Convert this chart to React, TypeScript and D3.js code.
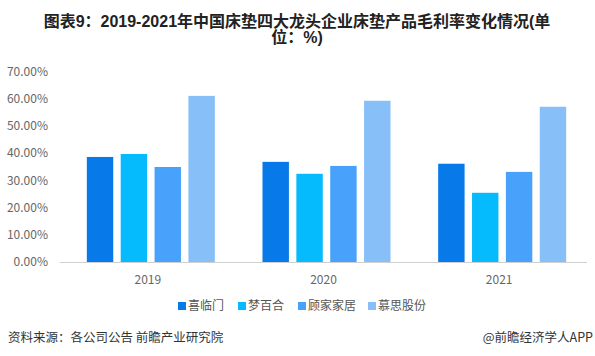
import React from "react";
import * as d3 from "d3";

const years = ["2019", "2020", "2021"];
const seriesNames = ["喜临门", "梦百合", "顾家家居", "慕思股份"];
const seriesColors = ["#0779E8", "#05BAFD", "#48A1FA", "#87BFF9"];
const values = [
  [38.7, 36.9, 36.2],
  [39.8, 32.5, 25.5],
  [35.0, 35.4, 33.2],
  [61.2, 59.4, 57.2],
];
const yTicks = [0, 10, 20, 30, 40, 50, 60, 70];
const titleLines = ["图表9：2019-2021年中国床垫四大龙头企业床垫产品毛利率变化情况(单", "位：%)"];
const sourceText = "资料来源：各公司公告 前瞻产业研究院";
const creditText = "@前瞻经济学人APP";

export default function App() {
  const W = 595, H = 356;
  const left = 60, right = 587, top = 72, bottom = 262;
  const x = d3.scaleBand<string>().domain(years).range([left, right]);
  const y = d3.scaleLinear().domain([0, 70]).range([bottom, top]);
  const sub = d3.scaleBand<string>().domain(seriesNames).range([0, 128]).paddingInner(0.22).paddingOuter(0);
  const font = "'Noto Sans CJK SC', 'Noto Sans', sans-serif";
  const legendX = [178, 238, 298, 368];
  return (
    <svg width={W} height={H} style={{ position: "absolute", left: 0, top: 0, background: "#fff" }} fontFamily={font}>
      <rect width={W} height={H} fill="#fff" />
      {titleLines.map((t, i) => (
        <text key={i} x={297} y={27 + i * 16} textAnchor="middle" fontSize={16} fontWeight="bold" fill="#222"
          fontFamily="'Liberation Sans', 'Noto Sans CJK SC', sans-serif">{t}</text>
      ))}
      {yTicks.map((t) => (
        <text key={t} x={48} y={y(t) + 4} textAnchor="end" fontSize={12} fill="#666">{t.toFixed(2)}%</text>
      ))}
      {seriesNames.map((s, si) =>
        years.map((yr, yi) => {
          const gx = (x(yr) as number) + x.bandwidth() / 2 - 61;
          const bx = gx + (sub(s) as number);
          return (
            <rect key={s + yr} x={bx} y={y(values[si][yi])} width={sub.bandwidth()}
              height={bottom - y(values[si][yi])} fill={seriesColors[si]} />
          );
        })
      )}
      <line x1={left} x2={right} y1={bottom + 0.5} y2={bottom + 0.5} stroke="#d0d0d0" strokeWidth={1} />
      {years.map((yr) => (
        <text key={yr} x={(x(yr) as number) + x.bandwidth() / 2} y={284} textAnchor="middle" fontSize={12} fill="#666">{yr}</text>
      ))}
      {seriesNames.map((s, i) => (
        <g key={s}>
          <rect x={legendX[i]} y={302} width={8} height={8} fill={seriesColors[i]} />
          <text x={legendX[i] + 10} y={310} fontSize={12} fill="#555">{s}</text>
        </g>
      ))}
      <text x={8} y={342} fontSize={12.5} fill="#333">{sourceText}</text>
      <text x={593} y={342} textAnchor="end" fontSize={12.5} fill="#333">{creditText}</text>
    </svg>
  );
}
